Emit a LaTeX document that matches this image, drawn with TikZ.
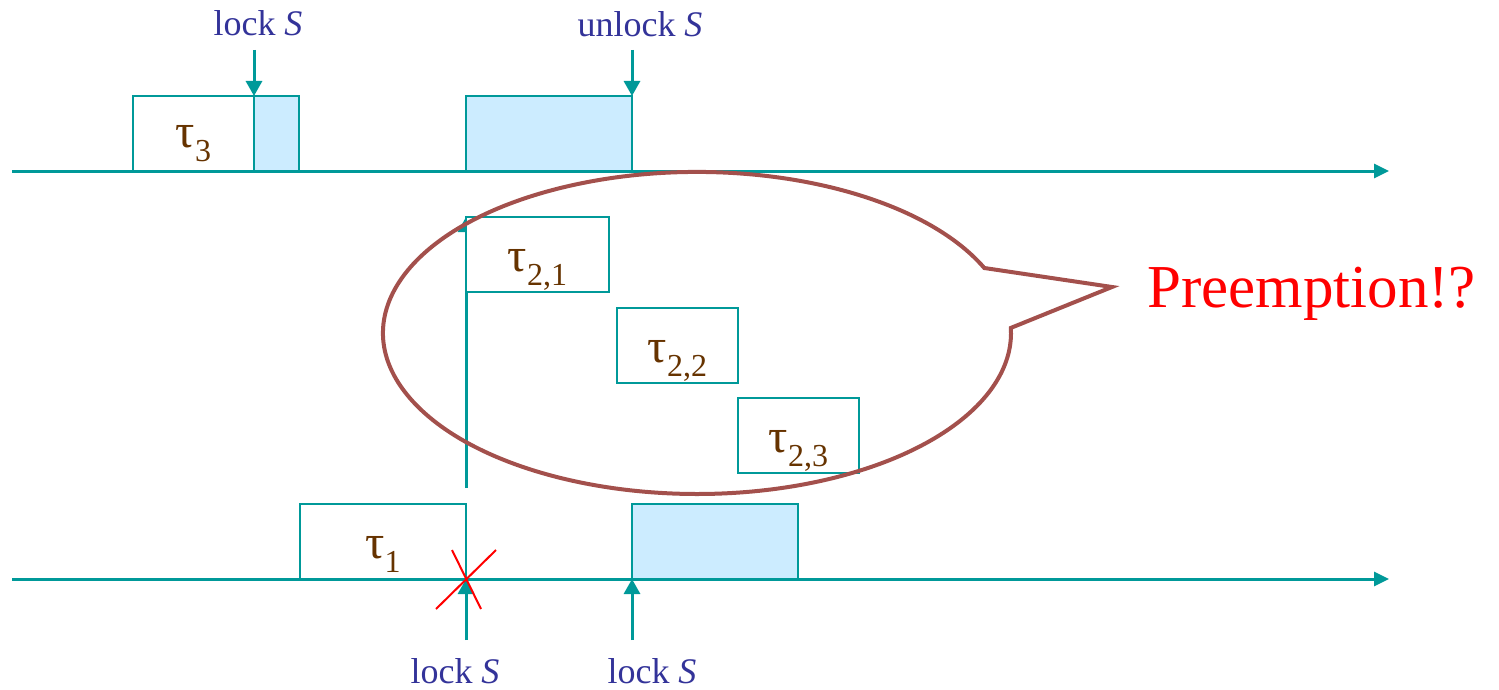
\documentclass[tikz,border=0pt]{standalone}
\usepackage{fontspec}
\setmainfont{Liberation Serif}
\usetikzlibrary{arrows.meta}
\definecolor{tealc}{RGB}{0,153,153}
\definecolor{critblue}{RGB}{204,236,255}
\definecolor{lblblue}{RGB}{51,51,153}
\definecolor{taubrown}{RGB}{102,51,0}
\definecolor{callc}{RGB}{163,80,76}
\newcommand{\tsk}[2]{τ\raisebox{-7pt}{\fontsize{16}{16}\selectfont #1}}
\begin{document}
\begin{tikzpicture}[x=0.5pt,y=-0.5pt,
  taskbox/.style={draw=tealc, line width=1pt, fill=white, inner sep=0pt, outer sep=0pt},
  crit/.style={taskbox, fill=critblue},
  axis/.style={draw=tealc, line width=1.5pt, -{Triangle[length=7.5pt,width=7pt]}},
  evt/.style={draw=tealc, line width=1.5pt, -{Triangle[length=7.5pt,width=8pt]}},
  lbl/.style={text=lblblue, font=\fontsize{18}{18}\selectfont, inner sep=0pt, anchor=base},
  tau/.style={text=taubrown, font=\fontsize{24}{24}\selectfont, inner sep=0pt, anchor=base},
  callout/.style={draw=callc, line width=2pt, line join=miter},
  cross/.style={draw=red, line width=1pt}]
\useasboundingbox (0,0) rectangle (1499,690);

% axes
\coordinate (a1s) at (12,171);
\coordinate (a1e) at (1389,171);
\coordinate (a2s) at (12,579);
\coordinate (a2e) at (1389,579);
\draw[axis] (a1s) -- (a2e |- a1e);
\draw[axis] (a2s) -- (a2e);

% vertical release line of tau2,1
\coordinate (r2bot) at (466,488);
\coordinate (r2top) at (466,217);
\draw[evt] (r2bot) -- (r2top);

% tau3 row
\node[taskbox, minimum width=60.5pt, minimum height=37.5pt] (t3a) at (193.5,133.5) {};
\node[crit, minimum width=22.5pt, minimum height=37.5pt] (t3b) at (276.5,133.5) {};
\node[crit, minimum width=83pt, minimum height=37.5pt] (t3c) at (549,133.5) {};
\node[tau] (l3) at (193.5,148) {\tsk{3}{}};

% tau2 jobs
\node[taskbox, minimum width=71.5pt, minimum height=37.5pt] (t21) at (537.5,254.5) {};
\node[taskbox, minimum width=60.5pt, minimum height=37.5pt] (t22) at (677.5,345.5) {};
\node[taskbox, minimum width=60.5pt, minimum height=37.5pt] (t23) at (798.5,435.5) {};
\node[tau] (l21) at (537.5,271) {\tsk{2,1}{}};
\node[tau] (l22) at (677.5,362) {\tsk{2,2}{}};
\node[tau] (l23) at (798.5,452) {\tsk{2,3}{}};

% tau1 row
\node[taskbox, minimum width=83pt, minimum height=37.5pt] (t1a) at (383,541.5) {};
\node[crit, minimum width=83pt, minimum height=37.5pt] (t1b) at (715,541.5) {};
\node[tau] (l1) at (383,558) {\tsk{1}{}};

% event labels and arrows
\node[lbl] (lk3) at (258,36) {lock \textit{S}};
\node[lbl] (ulk3) at (640,37) {unlock \textit{S}};
\node[lbl] (lk1a) at (455,683) {lock \textit{S}};
\node[lbl] (lk1b) at (652,683) {lock \textit{S}};
\coordinate (e1) at (254,50);
\coordinate (e2) at (632,50);
\coordinate (e3) at (466,640);
\coordinate (e4) at (632,640);
\draw[evt] (e1) -- (t3a.north east);
\draw[evt] (e2) -- (t3c.north east);
\draw[evt] (e3) -- (t1a.south east);
\draw[evt] (e4) -- (t1b.south west);

% red cross
\draw[cross] (452,550) -- (481,609);
\draw[cross] (496,550) -- (436,609);

% callout
\coordinate (cs) at (984.3,268);
\coordinate (ctip) at (1112,287);
\draw[callout] (cs) arc[start angle=23.8, end angle=361.8, x radius=157pt, y radius=80.5pt] -- (ctip) -- cycle;
\node[text=red, font=\fontsize{30.5}{30.5}\selectfont, inner sep=0pt, anchor=base west] (pre) at (1147,307) {Preemption!?};
\end{tikzpicture}
\end{document}
